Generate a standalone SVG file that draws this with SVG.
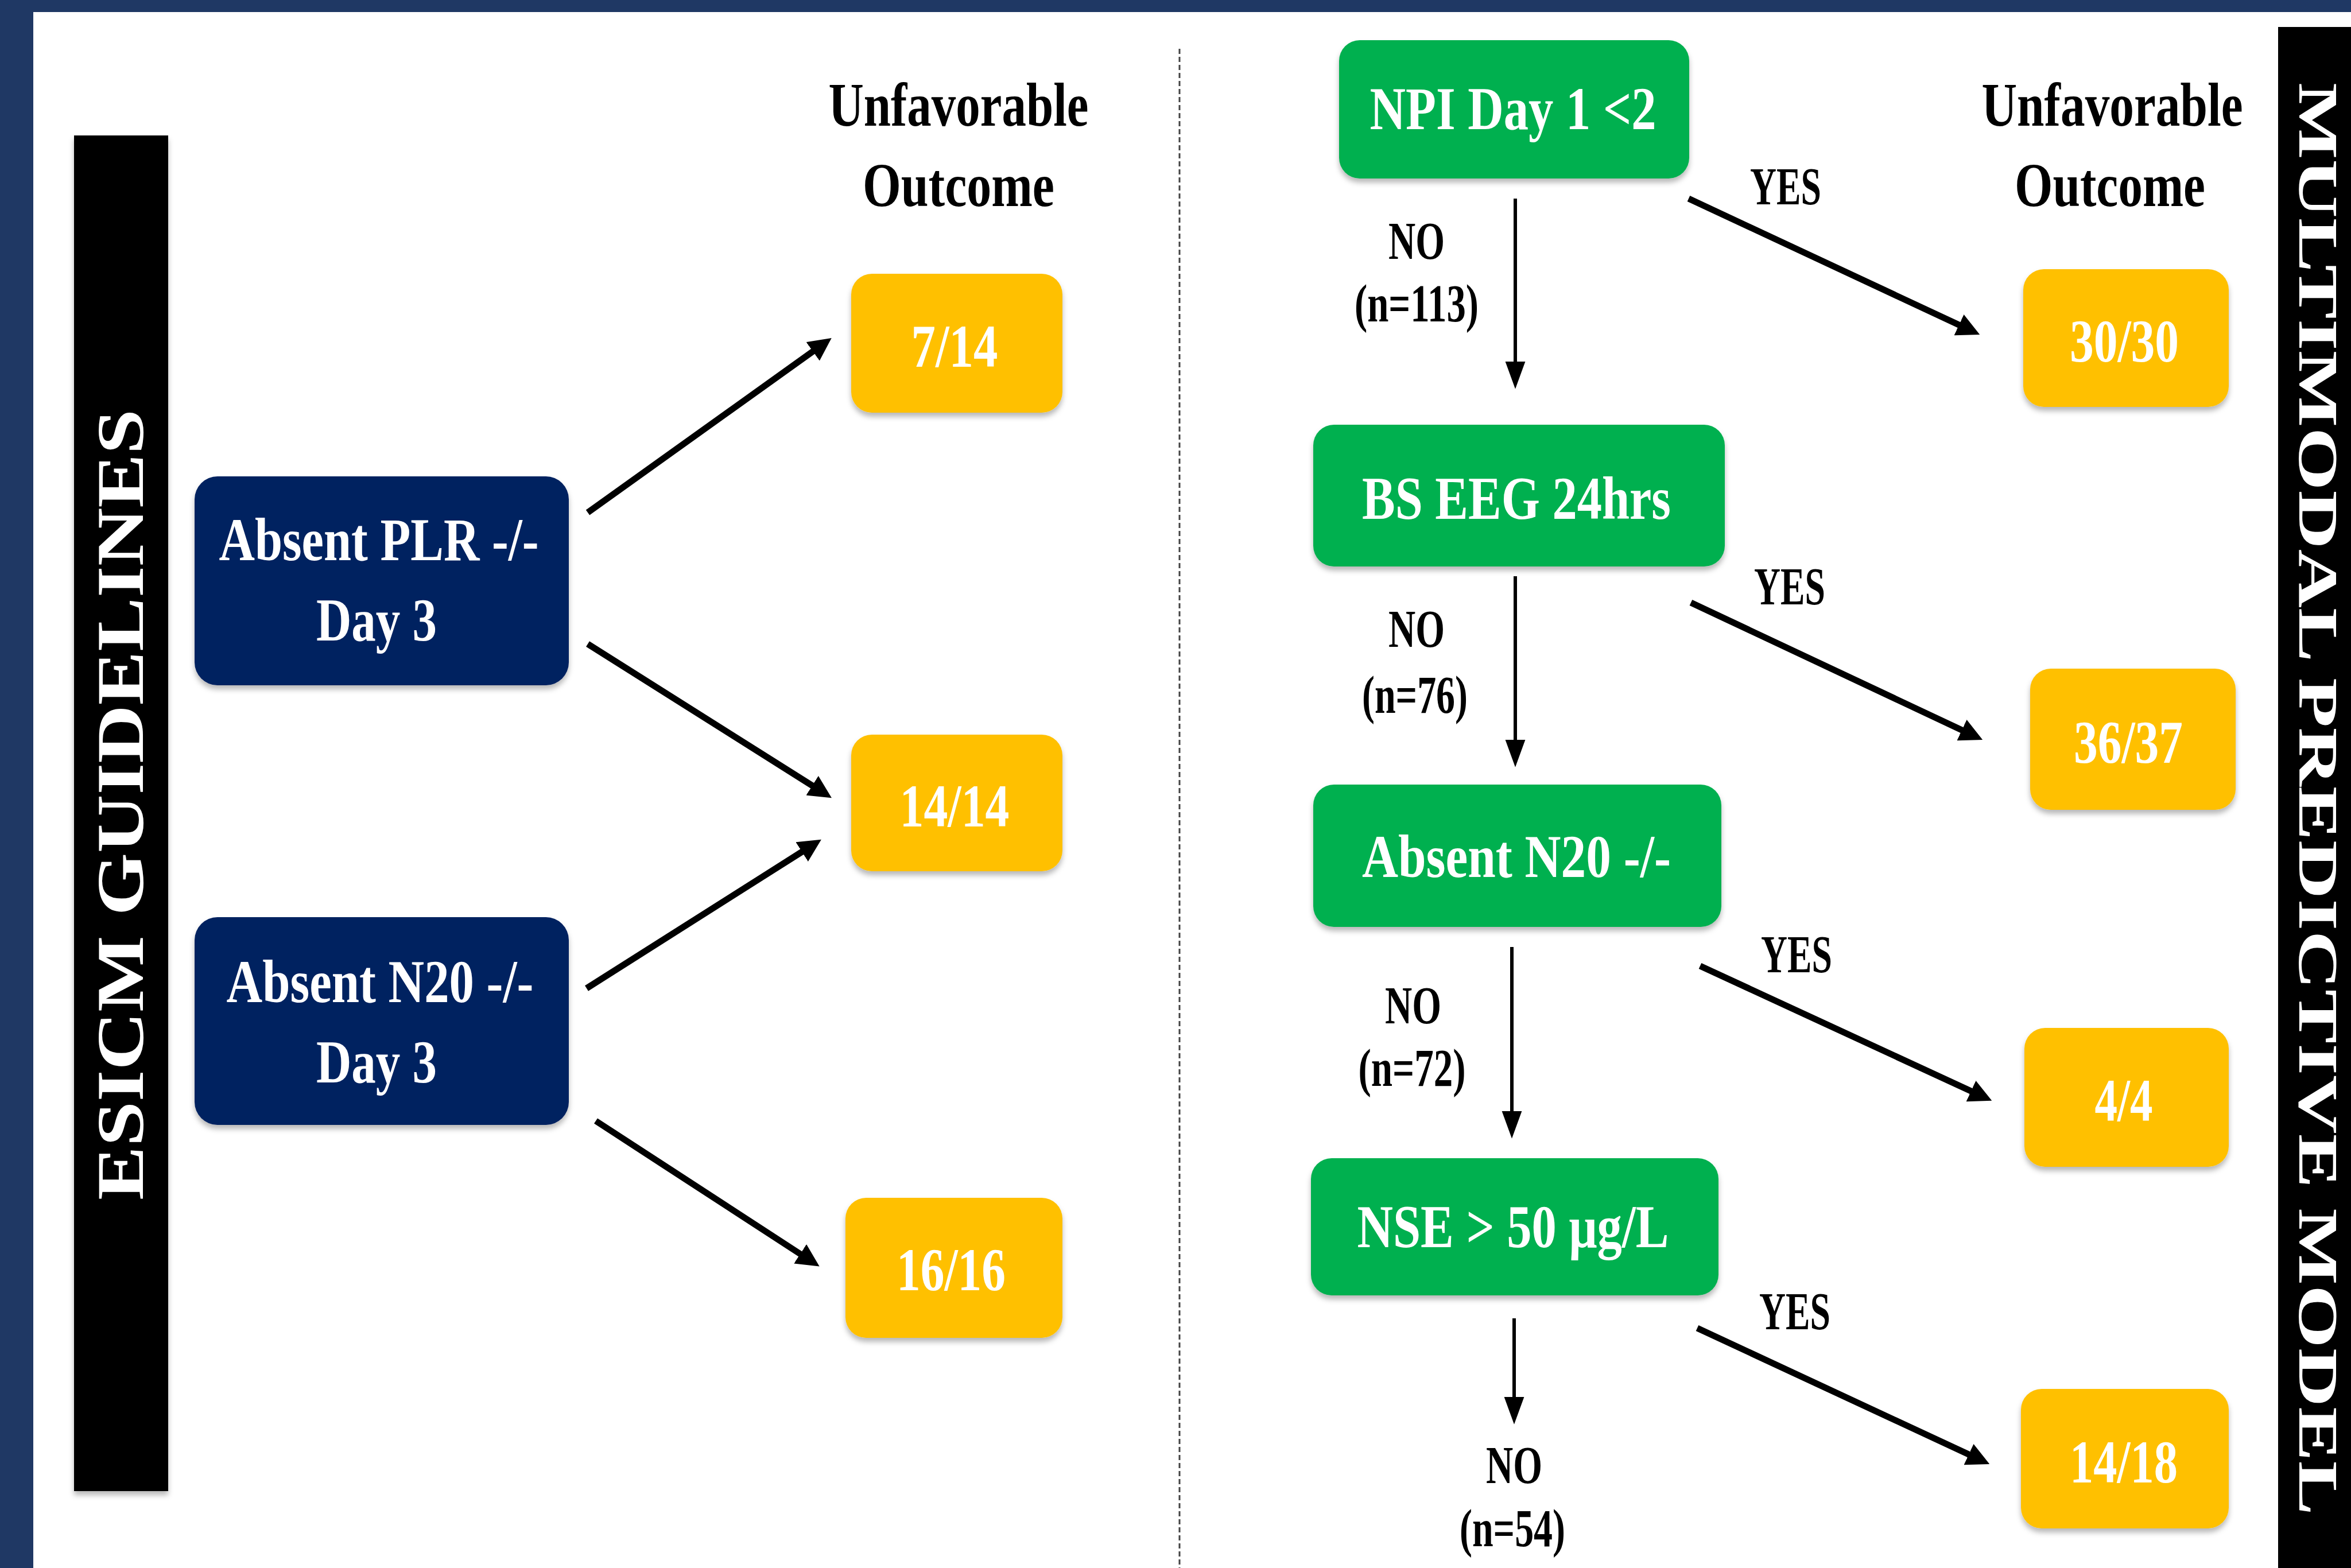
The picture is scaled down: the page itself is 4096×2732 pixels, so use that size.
<svg xmlns="http://www.w3.org/2000/svg" width="4096" height="2732" viewBox="0 0 4096 2732">
<defs>
<filter id="sh" x="-10%" y="-10%" width="120%" height="130%">
<feDropShadow dx="0" dy="7" stdDeviation="5" flood-color="#000" flood-opacity="0.28"/>
</filter>
<marker id="ah" markerUnits="userSpaceOnUse" markerWidth="40" markerHeight="40" viewBox="0 0 36 36" refX="2" refY="18" orient="auto">
<path d="M0,0 L36,18 L0,36 z" fill="#000"/>
</marker>
<marker id="av" markerUnits="userSpaceOnUse" markerWidth="48" markerHeight="36" viewBox="0 0 44 32" refX="2" refY="16" orient="auto">
<path d="M0,0 L44,16 L0,32 z" fill="#000"/>
</marker>
<style>
text{font-family:"Liberation Serif","Times New Roman",serif;font-weight:bold;text-anchor:middle}
.w{fill:#fff;font-size:106px}
.k{fill:#000;font-size:108px}
.s{fill:#000;font-size:94px}
.navy{fill:#002060}
.grn{fill:#00B050}
.yel{fill:#FFC000}
.thick{stroke:#000;stroke-width:11;fill:none;marker-end:url(#ah)}
.thin{stroke:#000;stroke-width:6;fill:none;marker-end:url(#av)}
</style>
</defs>
<rect x="0" y="0" width="4096" height="2732" fill="#fff"/>
<rect x="0" y="0" width="4096" height="21" fill="#1F3864"/>
<rect x="0" y="0" width="58" height="2732" fill="#1F3864"/>
<line x1="2055" y1="85" x2="2055" y2="2732" stroke="#444" stroke-width="3" stroke-dasharray="9 5"/>

<g id="esicm-bar">
<rect x="129" y="236" width="164" height="2362" fill="#000" filter="url(#sh)"/>
<text transform="translate(249,1402) rotate(-90)" x="0" y="0" fill="#fff" font-size="117" textLength="1378" lengthAdjust="spacingAndGlyphs">ESICM GUIDELINES</text>
</g>
<g id="multimodal-bar">
<rect x="3969" y="47" width="127" height="2685" fill="#000"/>
<text transform="translate(4006,1392) rotate(90)" x="0" y="0" fill="#fff" font-size="98" textLength="2496" lengthAdjust="spacingAndGlyphs">MULTIMODAL PREDICTIVE MODEL</text>
</g>

<g id="header-left">
<text class="k" x="1670" y="219" textLength="453" lengthAdjust="spacingAndGlyphs">Unfavorable</text>
<text class="k" x="1670" y="359" textLength="334" lengthAdjust="spacingAndGlyphs">Outcome</text>
</g>
<g id="header-right">
<text class="k" x="3680" y="219" textLength="455" lengthAdjust="spacingAndGlyphs">Unfavorable</text>
<text class="k" x="3676" y="359" textLength="332" lengthAdjust="spacingAndGlyphs">Outcome</text>
</g>

<g id="plr-day3">
<rect class="navy" x="339" y="830" width="652" height="364" rx="40" filter="url(#sh)"/>
<text class="w" x="660" y="976" textLength="557" lengthAdjust="spacingAndGlyphs">Absent PLR -/-</text>
<text class="w" x="656" y="1116" textLength="210" lengthAdjust="spacingAndGlyphs">Day 3</text>
</g>
<g id="n20-day3">
<rect class="navy" x="339" y="1598" width="652" height="362" rx="40" filter="url(#sh)"/>
<text class="w" x="662" y="1746" textLength="535" lengthAdjust="spacingAndGlyphs">Absent N20 -/-</text>
<text class="w" x="656" y="1886" textLength="210" lengthAdjust="spacingAndGlyphs">Day 3</text>
</g>
<g id="out-7-14">
<rect class="yel" x="1483" y="477" width="368" height="242" rx="36" filter="url(#sh)"/>
<text class="w" x="1663" y="639" textLength="151" lengthAdjust="spacingAndGlyphs">7/14</text>
</g>
<g id="out-14-14">
<rect class="yel" x="1483" y="1280" width="368" height="238" rx="36" filter="url(#sh)"/>
<text class="w" x="1663" y="1440" textLength="191" lengthAdjust="spacingAndGlyphs">14/14</text>
</g>
<g id="out-16-16">
<rect class="yel" x="1473" y="2087" width="378" height="244" rx="36" filter="url(#sh)"/>
<text class="w" x="1657" y="2248" textLength="190" lengthAdjust="spacingAndGlyphs">16/16</text>
</g>

<g id="npi">
<rect class="grn" x="2333" y="70" width="610" height="241" rx="36" filter="url(#sh)"/>
<text class="w" x="2636" y="225" textLength="499" lengthAdjust="spacingAndGlyphs">NPI Day 1 &lt;2</text>
</g>
<g id="bs-eeg">
<rect class="grn" x="2288" y="740" width="717" height="247" rx="36" filter="url(#sh)"/>
<text class="w" x="2642" y="904" textLength="538" lengthAdjust="spacingAndGlyphs">BS EEG 24hrs</text>
</g>
<g id="n20">
<rect class="grn" x="2288" y="1367" width="711" height="248" rx="36" filter="url(#sh)"/>
<text class="w" x="2642" y="1528" textLength="538" lengthAdjust="spacingAndGlyphs">Absent N20 -/-</text>
</g>
<g id="nse">
<rect class="grn" x="2284" y="2018" width="710" height="239" rx="36" filter="url(#sh)"/>
<text class="w" x="2636" y="2173" textLength="543" lengthAdjust="spacingAndGlyphs">NSE &gt; 50 μg/L</text>
</g>
<g id="out-30-30">
<rect class="yel" x="3525" y="469" width="358" height="240" rx="36" filter="url(#sh)"/>
<text class="w" x="3701" y="630" textLength="190" lengthAdjust="spacingAndGlyphs">30/30</text>
</g>
<g id="out-36-37">
<rect class="yel" x="3537" y="1165" width="358" height="246" rx="36" filter="url(#sh)"/>
<text class="w" x="3708" y="1329" textLength="190" lengthAdjust="spacingAndGlyphs">36/37</text>
</g>
<g id="out-4-4">
<rect class="yel" x="3527" y="1791" width="356" height="242" rx="36" filter="url(#sh)"/>
<text class="w" x="3700" y="1953" textLength="101" lengthAdjust="spacingAndGlyphs">4/4</text>
</g>
<g id="out-14-18">
<rect class="yel" x="3521" y="2420" width="362" height="243" rx="36" filter="url(#sh)"/>
<text class="w" x="3700" y="2583" textLength="188" lengthAdjust="spacingAndGlyphs">14/18</text>
</g>

<g id="connectors">
<path class="thick" d="M1024,893 L1418,611"/>
<path class="thick" d="M1024,1122 L1417,1370"/>
<path class="thick" d="M1022,1722 L1399,1483"/>
<path class="thick" d="M1038,1953 L1396,2186"/>
<path class="thick" d="M2942,346 L3415,567"/>
<path class="thick" d="M2946,1050 L3420,1273"/>
<path class="thick" d="M2962,1683 L3436,1902"/>
<path class="thick" d="M2957,2314 L3432,2535"/>
<path class="thin" d="M2640,346 L2640,632"/>
<path class="thin" d="M2640,1004 L2640,1291"/>
<path class="thin" d="M2634,1650 L2634,1938"/>
<path class="thin" d="M2638,2297 L2638,2436"/>
</g>

<g id="labels">
<text class="s" x="3111" y="356" textLength="124" lengthAdjust="spacingAndGlyphs">YES</text>
<text class="s" x="3118" y="1053" textLength="124" lengthAdjust="spacingAndGlyphs">YES</text>
<text class="s" x="3130" y="1694" textLength="124" lengthAdjust="spacingAndGlyphs">YES</text>
<text class="s" x="3127" y="2316" textLength="124" lengthAdjust="spacingAndGlyphs">YES</text>
<text class="s" x="2468" y="451" textLength="98" lengthAdjust="spacingAndGlyphs">NO</text>
<text class="s" x="2468" y="560" textLength="216" lengthAdjust="spacingAndGlyphs">(n=113)</text>
<text class="s" x="2468" y="1127" textLength="98" lengthAdjust="spacingAndGlyphs">NO</text>
<text class="s" x="2465" y="1242" textLength="184" lengthAdjust="spacingAndGlyphs">(n=76)</text>
<text class="s" x="2462" y="1783" textLength="98" lengthAdjust="spacingAndGlyphs">NO</text>
<text class="s" x="2460" y="1892" textLength="187" lengthAdjust="spacingAndGlyphs">(n=72)</text>
<text class="s" x="2638" y="2584" textLength="98" lengthAdjust="spacingAndGlyphs">NO</text>
<text class="s" x="2635" y="2694" textLength="184" lengthAdjust="spacingAndGlyphs">(n=54)</text>
</g>
</svg>
